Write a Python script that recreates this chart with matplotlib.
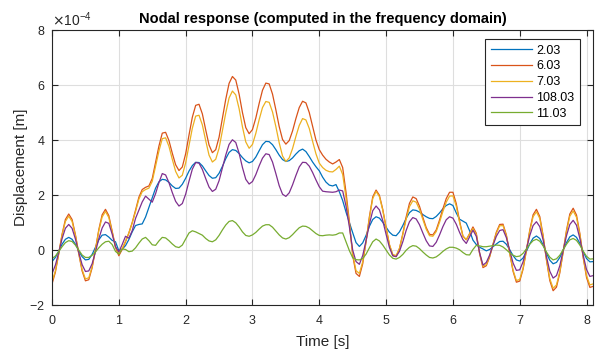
import numpy as np
import matplotlib
matplotlib.use("Agg")
import matplotlib.pyplot as plt
from matplotlib.ticker import ScalarFormatter

plt.rcParams['font.family'] = ['Liberation Sans', 'DejaVu Sans']
plt.rcParams['axes.unicode_minus'] = False

# sample times [s]
t = np.arange(0, 8.1001, 0.05)

# nodal displacements, in units of 1e-4 m
node_2_03 = [
    -0.42, -0.27, -0.04, 0.21, 0.39, 0.46, 0.39, 0.21, -0.03, -0.24,
    -0.36, -0.34, -0.16, 0.10, 0.37, 0.54, 0.56, 0.47, 0.35, 0.30,
    -0.03, 0.03, 0.16, 0.38, 0.66, 0.89, 0.93, 0.95, 1.20, 1.55,
    1.90, 2.25, 2.48, 2.57, 2.55, 2.46, 2.33, 2.24, 2.25, 2.39,
    2.61, 2.87, 3.07, 3.19, 3.18, 3.06, 2.88, 2.71, 2.61, 2.63,
    2.79, 3.04, 3.32, 3.55, 3.65, 3.62, 3.51, 3.36, 3.24, 3.17,
    3.22, 3.38, 3.61, 3.83, 3.95, 3.94, 3.83, 3.65, 3.45, 3.29,
    3.22, 3.25, 3.35, 3.49, 3.61, 3.67, 3.58, 3.40, 3.20, 3.03,
    2.88, 2.65, 2.47, 2.36, 2.33, 2.38, 2.12, 1.80, 1.38, 1.00,
    0.63, 0.27, 0.13, 0.26, 0.53, 0.86, 1.11, 1.21, 1.16, 1.01,
    0.83, 0.65, 0.54, 0.52, 0.66, 0.89, 1.15, 1.36, 1.46, 1.44,
    1.38, 1.29, 1.21, 1.15, 1.14, 1.22, 1.35, 1.50, 1.62, 1.68,
    1.62, 1.35, 1.12, 1.05, 0.98, 0.70, 0.36, 0.20, 0.10, 0.04,
    -0.03, 0.02, 0.12, 0.22, 0.31, 0.32, 0.21, 0.01, -0.20, -0.36,
    -0.40, -0.29, -0.05, 0.22, 0.43, 0.51, 0.42, 0.19, -0.11, -0.37,
    -0.50, -0.45, -0.27, 0.00, 0.27, 0.48, 0.55, 0.46, 0.24, -0.06,
    -0.31, -0.43, -0.42,
]
node_6_03 = [
    -1.23, -0.81, -0.14, 0.57, 1.11, 1.31, 1.11, 0.56, -0.13, -0.76,
    -1.12, -1.08, -0.65, 0.02, 0.74, 1.28, 1.48, 1.25, 0.69, 0.10,
    -0.21, 0.02, 0.30, 0.62, 1.00, 1.45, 1.92, 2.20, 2.28, 2.33,
    2.60, 3.20, 3.78, 4.25, 4.28, 3.98, 3.52, 3.10, 2.89, 3.02,
    3.50, 4.18, 4.83, 5.26, 5.30, 4.95, 4.37, 3.82, 3.54, 3.65,
    4.10, 4.78, 5.48, 6.06, 6.31, 6.18, 5.67, 5.00, 4.45, 4.23,
    4.38, 4.80, 5.33, 5.81, 6.07, 6.04, 5.67, 5.10, 4.49, 4.02,
    3.85, 3.98, 4.33, 4.78, 5.18, 5.41, 5.35, 5.00, 4.50, 4.00,
    3.65, 3.45, 3.30, 3.20, 3.13, 3.20, 3.29, 3.00, 2.10, 1.05,
    -0.20, -0.85, -0.96, -0.50, 0.31, 1.21, 1.93, 2.18, 1.99, 1.48,
    0.82, 0.19, -0.20, -0.24, 0.05, 0.59, 1.20, 1.70, 1.93, 1.87,
    1.59, 1.19, 0.82, 0.57, 0.55, 0.73, 1.09, 1.50, 1.87, 2.10,
    2.10, 1.69, 1.05, 0.51, 0.37, 0.60, 0.84, 0.61, -0.14, -0.64,
    -0.57, -0.25, 0.21, 0.65, 0.93, 0.94, 0.55, -0.12, -0.77, -1.17,
    -1.13, -0.70, -0.02, 0.72, 1.28, 1.48, 1.22, 0.53, -0.36, -1.11,
    -1.48, -1.35, -0.83, -0.07, 0.72, 1.31, 1.52, 1.27, 0.60, -0.27,
    -1.00, -1.36, -1.32,
]
node_7_03 = [
    -1.15, -0.76, -0.13, 0.54, 1.04, 1.23, 1.04, 0.53, -0.12, -0.71,
    -1.05, -1.01, -0.61, 0.02, 0.70, 1.20, 1.40, 1.18, 0.66, 0.12,
    -0.12, 0.05, 0.32, 0.62, 0.98, 1.40, 1.85, 2.12, 2.20, 2.25,
    2.50, 3.05, 3.60, 4.05, 4.08, 3.77, 3.30, 2.86, 2.62, 2.72,
    3.17, 3.80, 4.43, 4.87, 4.90, 4.55, 3.98, 3.45, 3.20, 3.30,
    3.70, 4.33, 4.98, 5.53, 5.78, 5.64, 5.14, 4.48, 3.93, 3.70,
    3.84, 4.24, 4.74, 5.18, 5.40, 5.37, 5.02, 4.49, 3.90, 3.42,
    3.22, 3.35, 3.69, 4.13, 4.53, 4.78, 4.73, 4.42, 3.95, 3.50,
    3.16, 3.00, 2.90, 2.85, 2.84, 2.93, 3.05, 2.75, 1.90, 0.95,
    -0.15, -0.75, -0.85, -0.43, 0.30, 1.16, 1.87, 2.13, 1.94, 1.45,
    0.81, 0.20, -0.16, -0.20, 0.06, 0.56, 1.12, 1.58, 1.79, 1.74,
    1.48, 1.11, 0.76, 0.52, 0.50, 0.67, 1.01, 1.40, 1.74, 1.96,
    1.97, 1.60, 1.00, 0.50, 0.38, 0.58, 0.78, 0.57, -0.12, -0.59,
    -0.53, -0.23, 0.20, 0.61, 0.88, 0.89, 0.52, -0.11, -0.73, -1.11,
    -1.07, -0.66, -0.02, 0.68, 1.21, 1.39, 1.15, 0.50, -0.34, -1.04,
    -1.39, -1.27, -0.78, -0.07, 0.67, 1.23, 1.42, 1.19, 0.56, -0.25,
    -0.93, -1.27, -1.23,
]
node_108_03 = [
    -0.86, -0.55, -0.09, 0.41, 0.79, 0.93, 0.79, 0.40, -0.09, -0.53,
    -0.78, -0.76, -0.50, -0.07, 0.41, 0.80, 1.02, 0.97, 0.58, 0.12,
    -0.07, 0.20, 0.50, 0.43, 0.70, 1.15, 1.45, 1.75, 1.96, 1.85,
    1.74, 2.05, 2.45, 2.78, 2.73, 2.45, 2.09, 1.77, 1.60, 1.69,
    2.03, 2.50, 2.94, 3.18, 3.16, 2.93, 2.60, 2.29, 2.13, 2.21,
    2.52, 2.98, 3.45, 3.84, 4.01, 3.91, 3.52, 3.00, 2.57, 2.40,
    2.49, 2.74, 3.06, 3.34, 3.50, 3.47, 3.20, 2.78, 2.34, 2.03,
    1.95, 2.08, 2.37, 2.71, 3.02, 3.19, 3.18, 3.05, 2.82, 2.55,
    2.30, 2.14, 2.12, 2.11, 2.10, 2.12, 2.18, 2.15, 1.60, 0.85,
    0.00, -0.42, -0.52, -0.20, 0.34, 0.94, 1.43, 1.60, 1.46, 1.07,
    0.57, 0.09, -0.21, -0.24, -0.05, 0.30, 0.71, 1.03, 1.18, 1.13,
    0.92, 0.62, 0.34, 0.15, 0.13, 0.28, 0.55, 0.85, 1.10, 1.21,
    1.16, 0.94, 0.64, 0.38, 0.24, 0.48, 0.72, 0.50, -0.10, -0.55,
    -0.45, -0.18, 0.17, 0.50, 0.71, 0.74, 0.45, -0.01, -0.47, -0.74,
    -0.72, -0.43, 0.03, 0.52, 0.89, 1.03, 0.85, 0.37, -0.24, -0.77,
    -1.02, -0.93, -0.57, -0.03, 0.52, 0.93, 1.08, 0.90, 0.42, -0.19,
    -0.71, -0.96, -0.93,
]
node_11_03 = [
    -0.31, -0.22, -0.06, 0.12, 0.27, 0.34, 0.31, 0.18, 0.00, -0.18,
    -0.27, -0.27, -0.19, -0.07, 0.08, 0.21, 0.30, 0.32, 0.20, -0.05,
    -0.15, 0.04, 0.02, -0.06, -0.04, 0.08, 0.25, 0.40, 0.46, 0.34,
    0.19, 0.17, 0.33, 0.46, 0.44, 0.34, 0.22, 0.12, 0.09, 0.18,
    0.40, 0.62, 0.70, 0.66, 0.60, 0.54, 0.42, 0.33, 0.30, 0.37,
    0.53, 0.73, 0.91, 1.04, 1.07, 0.99, 0.84, 0.66, 0.53, 0.50,
    0.55, 0.64, 0.76, 0.87, 0.92, 0.92, 0.83, 0.69, 0.55, 0.44,
    0.40, 0.45, 0.56, 0.69, 0.81, 0.87, 0.86, 0.80, 0.70, 0.60,
    0.53, 0.52, 0.54, 0.55, 0.54, 0.56, 0.62, 0.62, 0.30, -0.02,
    -0.28, -0.35, -0.36, -0.31, -0.15, 0.08, 0.30, 0.40, 0.33, 0.18,
    0.00, -0.18, -0.30, -0.33, -0.27, -0.16, -0.01, 0.10, 0.16, 0.14,
    0.05, -0.07, -0.18, -0.27, -0.29, -0.25, -0.16, -0.05, 0.04, 0.10,
    0.10, 0.07, 0.01, -0.09, -0.17, -0.18, 0.02, 0.17, 0.15, 0.12,
    0.12, 0.14, 0.16, 0.18, 0.17, 0.11, 0.01, -0.10, -0.19, -0.24,
    -0.22, -0.12, 0.04, 0.21, 0.34, 0.39, 0.32, 0.15, -0.07, -0.26,
    -0.36, -0.32, -0.19, 0.01, 0.21, 0.37, 0.42, 0.35, 0.18, -0.04,
    -0.23, -0.33, -0.32,
]

labels = ['2.03', '6.03', '7.03', '108.03', '11.03']
colors = ['#0072BD', '#D95319', '#EDB120', '#7E2F8E', '#77AC30']
series = [node_2_03, node_6_03, node_7_03, node_108_03, node_11_03]

fig = plt.figure(figsize=(5.98, 3.49), dpi=100)
ax = fig.add_axes([0.087, 0.126, 0.905, 0.788])

for y, lab, c in zip(series, labels, colors):
    ax.plot(t, np.array(y) * 1e-4, color=c, lw=0.9, label=lab)

ax.set_xlim(0, 8.1)
ax.set_ylim(-2e-4, 8e-4)
ax.set_xticks(range(0, 9))
ax.set_yticks(np.arange(-2, 9, 2) * 1e-4)

# axis exponent shown as x10^-4 above the y axis
fmt = ScalarFormatter(useMathText=True)
fmt.set_powerlimits((0, 0))
ax.yaxis.set_major_formatter(fmt)
ax.yaxis.get_offset_text().set_fontsize(10)
ax.yaxis.get_offset_text().set_color('#262626')

ax.grid(True, color='#dedede', lw=0.8)
ax.set_axisbelow(True)
ax.tick_params(direction='in', top=True, right=True, length=4,
               labelsize=9, colors='#262626')
ax.tick_params(axis='x', pad=7)
ax.tick_params(axis='y', pad=5)
for s in ax.spines.values():
    s.set_color('#262626')
    s.set_linewidth(0.8)

ax.set_xlabel('Time [s]', fontsize=11, color='#262626', labelpad=6)
ax.set_ylabel('Displacement [m]', fontsize=11, color='#262626', labelpad=1)
ax.set_title('Nodal response (computed in the frequency domain)',
             fontsize=10.5, fontweight='bold', pad=5)

leg = ax.legend(loc='upper right', fontsize=9, handlelength=3.3,
                handletextpad=0.35, fancybox=False, framealpha=1,
                borderpad=0.45, labelspacing=0.3, borderaxespad=0,
                bbox_to_anchor=(0.976, 0.967))
leg.get_frame().set_edgecolor('#262626')
leg.get_frame().set_linewidth(0.8)

fig.savefig('out.png', dpi=100)
